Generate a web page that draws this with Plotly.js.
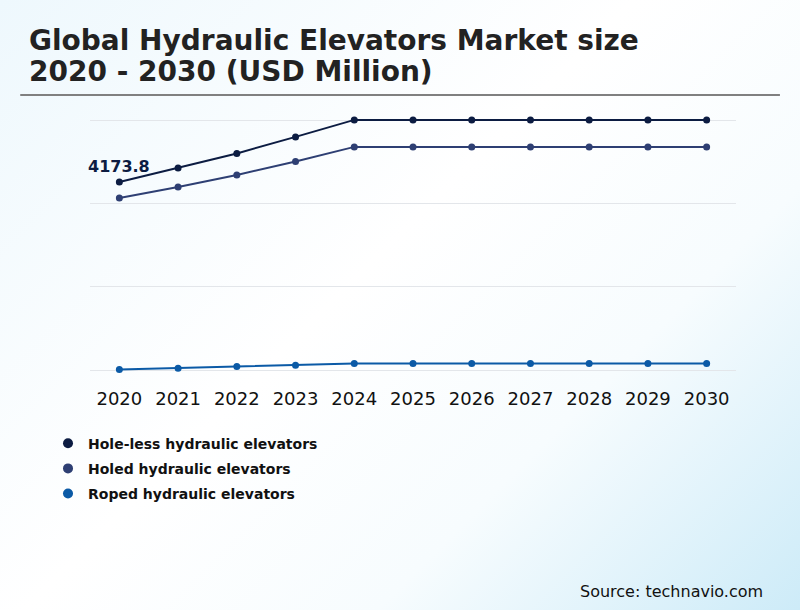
<!DOCTYPE html>
<html>
<head>
<meta charset="utf-8">
<script src="https://cdn.plot.ly/plotly-3.0.1.min.js"></script>
<style>
  html, body { margin: 0; padding: 0; }
  body {
    width: 800px; height: 610px;
    background: linear-gradient(135deg, #eef8fd 0%, #ffffff 45%, #f7fcfe 70%, #cdebf8 100%);
  }
  #chart { width: 800px; height: 610px; }
</style>
</head>
<body>
<div id="chart"></div>
<script>
const years = ['2020', '2021', '2022', '2023', '2024', '2025', '2026', '2027', '2028', '2029', '2030'];
const holeLess = [4173.8, 4486, 4808, 5175, 5552, 5552, 5552, 5552, 5552, 5552, 5552];
const holed = [3820, 4064, 4331, 4630, 4953, 4953, 4953, 4953, 4953, 4953, 4953];
const roped = [10, 40, 75, 108, 144, 144, 144, 144, 144, 144, 144];
const titleLines = ['Global Hydraulic Elevators Market size', '2020 - 2030 (USD Million)'];

const font = 'DejaVu Sans, Verdana, sans-serif';

var data = [];
function series(name, y, color) {
  // line shown on the chart
  data.push({
    x: years,
    y: y,
    type: 'scatter',
    mode: 'lines+markers',
    line: { color: color, width: 2 },
    marker: { color: color, size: 7 },
    showlegend: false,
    hoverinfo: 'x+y'
  });
  // legend entry only shows the dot
  data.push({
    x: [null],
    y: [null],
    name: '<b>' + name + '</b>',
    legendgroup: name,
    type: 'scatter',
    mode: 'markers',
    marker: { color: color, size: 10 }
  });
}
series('Hole-less hydraulic elevators', holeLess, '#0c1c42');
series('Holed hydraulic elevators', holed, '#2e3f73');
series('Roped hydraulic elevators', roped, '#0b5aa6');

function titleLine(text, y) {
  return {
    xref: 'paper', yref: 'paper',
    x: -0.0975, y: y, xanchor: 'left', yanchor: 'middle',
    text: '<b>' + text + '</b>', showarrow: false,
    font: { family: font, size: 28, color: '#222' }
  };
}

var layout = {
  width: 800,
  height: 610,
  paper_bgcolor: 'rgba(0,0,0,0)',
  plot_bgcolor: 'rgba(0,0,0,0)',
  margin: { l: 90, r: 64, t: 105, b: 230 },
  font: { family: font, color: '#111' },
  xaxis: {
    type: 'category',
    range: [-0.5, 10.5],
    showgrid: false,
    zeroline: false,
    showline: false,
    ticks: '',
    ticklabelstandoff: 6,
    tickfont: { family: font, size: 18, color: '#111' }
  },
  yaxis: {
    range: [-222, 5883],
    tick0: 0,
    dtick: 1850,
    showticklabels: false,
    gridcolor: '#e3e6ea',
    gridwidth: 1,
    zeroline: false,
    showline: false
  },
  showlegend: true,
  legend: {
    orientation: 'v',
    traceorder: 'grouped',
    tracegroupgap: 4,
    x: -0.065, xanchor: 'left',
    y: -0.173, yanchor: 'top',
    font: { family: font, size: 14, color: '#111' },
    bgcolor: 'rgba(0,0,0,0)',
    itemwidth: 30
  },
  shapes: [{
    type: 'line', xref: 'paper', yref: 'paper',
    x0: -0.108, x1: 1.068, y0: 1.036, y1: 1.036,
    line: { color: '#808080', width: 2 }
  }],
  annotations: [
    titleLine(titleLines[0], 1.236),
    titleLine(titleLines[1], 1.12),
    {
      x: 0, y: holeLess[0], xref: 'x', yref: 'y',
      text: '<b>' + holeLess[0] + '</b>',
      showarrow: false, xanchor: 'center', yanchor: 'bottom',
      yshift: 4,
      font: { family: font, size: 16, color: '#0c1c42' }
    },
    {
      xref: 'paper', yref: 'paper',
      x: 1.045, y: -0.77, xanchor: 'right', yanchor: 'middle',
      text: 'Source: technavio.com', showarrow: false,
      font: { family: font, size: 16, color: '#111' }
    }
  ]
};

Plotly.newPlot('chart', data, layout, { displayModeBar: false });
</script>
</body>
</html>
